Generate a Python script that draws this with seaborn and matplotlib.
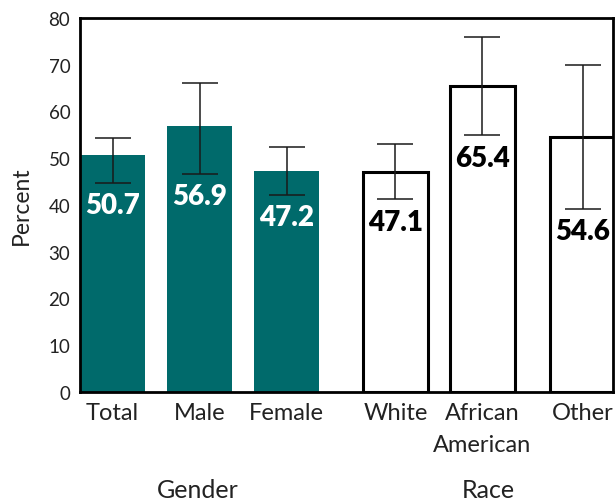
import matplotlib
matplotlib.use("Agg")
import matplotlib.pyplot as plt
import seaborn as sns
import numpy as np
import pandas as pd

# Survey results: share reporting, with 95% confidence limits
categories = ["Total", "Male", "Female", "White", "African\nAmerican", "Other"]
groups = ["Gender", "Gender", "Gender", "Race", "Race", "Race"]
values = [50.7, 56.9, 47.2, 47.1, 65.4, 54.6]
ci_low = [44.8, 46.6, 42.1, 41.2, 54.9, 39.1]
ci_high = [54.3, 66.1, 52.5, 53.0, 75.9, 70.0]
positions = [0.0, 1.0, 2.0, 3.25, 4.25, 5.4]
y_ticks = [0, 10, 20, 30, 40, 50, 60, 70, 80]

teal = "#006a6b"

sns.set_theme(style="white")
plt.rcParams["font.family"] = ["Lato", "DejaVu Sans"]

df = pd.DataFrame({"pos": positions, "value": values, "group": groups,
                   "label": categories})

fig = plt.figure(figsize=(6.16, 5.02), dpi=100)
ax = fig.add_axes([80 / 616, 109 / 502, 533 / 616, 374 / 502])

sns.barplot(data=df, x="pos", y="value", hue="group",
            palette={"Gender": teal, "Race": "white"},
            native_scale=True, dodge=False, width=0.75,
            errorbar=None, legend=False, ax=ax, saturation=1)

# outline the race bars
for patch in ax.patches:
    if patch.get_facecolor()[:3] == (1.0, 1.0, 1.0):
        patch.set_edgecolor("black")
        patch.set_linewidth(2.2)
    else:
        patch.set_edgecolor("none")

vals = np.array(values)
yerr = [vals - np.array(ci_low), np.array(ci_high) - vals]
ax.errorbar(positions, vals, yerr=yerr, fmt="none", ecolor="#1a1a1a",
            elinewidth=1.1, capsize=13, capthick=1.1, zorder=5)

for p, v, lo, g in zip(positions, values, ci_low, groups):
    ax.annotate(f"{v:.1f}", (p, lo), xytext=(0, -16), textcoords="offset points",
                ha="center", va="center", fontsize=20, fontweight="heavy",
                color="white" if g == "Gender" else "black", zorder=6)

ax.set_xlim(-0.375, 5.75)
ax.set_ylim(0, 80)
ax.set_yticks(y_ticks)
ax.set_yticklabels([str(t) for t in y_ticks], fontsize=13.5, color="#222222")
ax.set_xticks(positions)
ax.set_xticklabels(categories, fontsize=17, color="#222222")
for t in ax.get_xticklabels():
    t.set_linespacing(1.65)
ax.tick_params(axis="both", length=0)
ax.tick_params(axis="y", pad=7)
ax.tick_params(axis="x", pad=7)
ax.set_xlabel("")
ax.set_ylabel("Percent", fontsize=16.5, color="#222222")
ax.yaxis.set_label_coords(-48 / 533, 0.5)

for side in ["left", "right", "top", "bottom"]:
    ax.spines[side].set_visible(True)
    ax.spines[side].set_color("black")
    ax.spines[side].set_linewidth(2)

fig.text(198 / 616, 0.022, "Gender", ha="center", va="center",
         fontsize=18, color="#222222")
fig.text(488 / 616, 0.022, "Race", ha="center", va="center",
         fontsize=18, color="#222222")

fig.savefig("out.png", dpi=100)
